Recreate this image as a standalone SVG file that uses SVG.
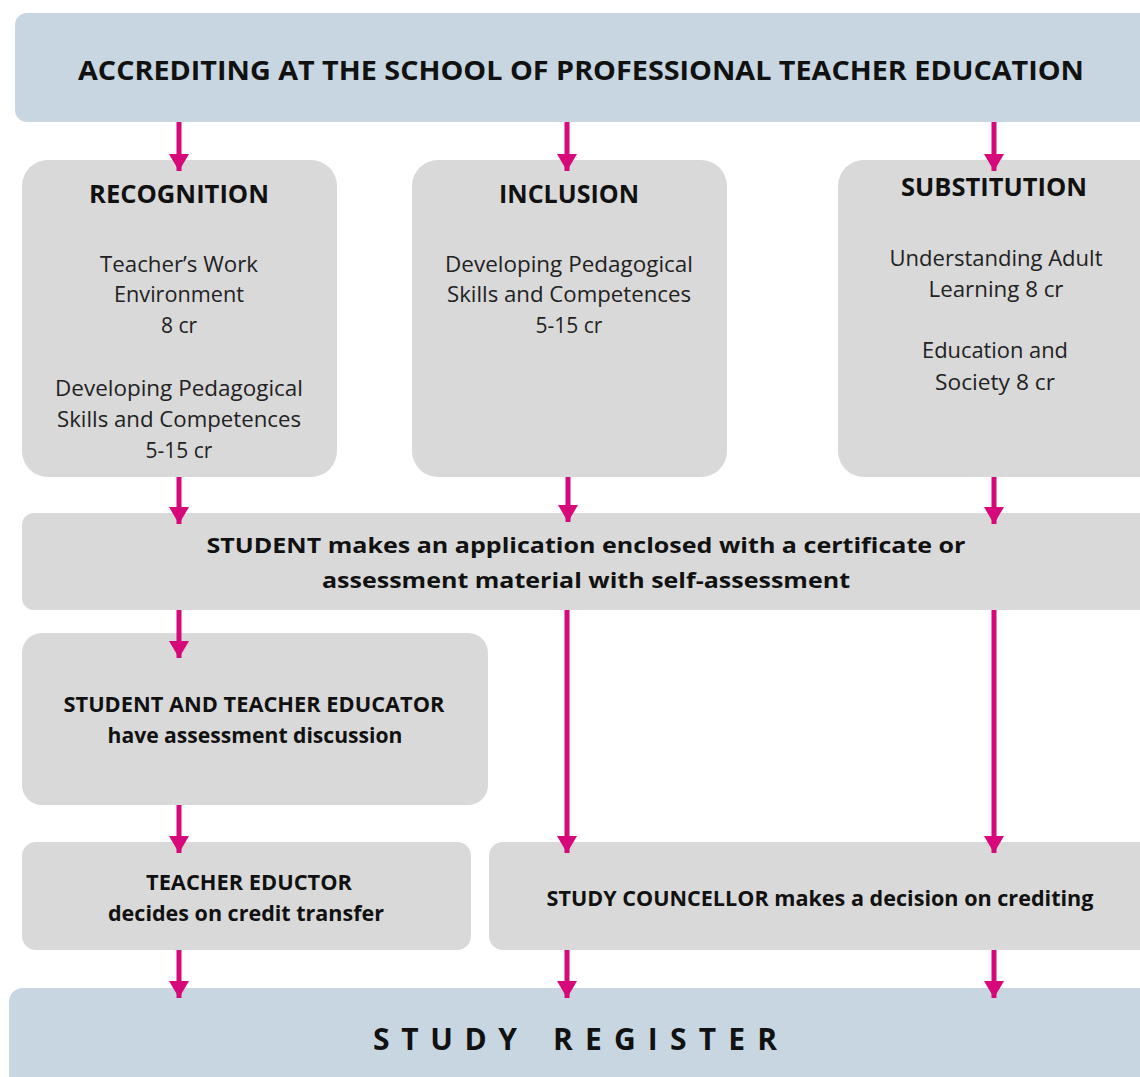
<svg xmlns="http://www.w3.org/2000/svg" width="1140" height="1077" viewBox="0 0 1140 1077">
<defs>
<style>
.blue{fill:#c7d6e0}
.grey{fill:#d9d9d9}
text{font-family:"Open Sans","Liberation Sans",sans-serif;fill:#111;text-anchor:middle}
.h{font-weight:bold;font-size:25px}
.b{font-weight:bold;font-size:22px}
.n{font-size:21px;fill:#222}
.reg{font-weight:bold;font-size:30px;text-anchor:start}
.conn line{stroke:#d6087a;stroke-width:5}
</style>
<marker id="ah" markerWidth="17" markerHeight="20" refX="17" refY="10" orient="auto" markerUnits="userSpaceOnUse" viewBox="0 0 17 20">
<path d="M0,0 L17,10 L0,20 Z" fill="#d6087a"/>
</marker>
</defs>
<rect width="1140" height="1077" fill="#fff"/>
<g id="top">
<rect class="blue" x="15" y="13" width="1145" height="109" rx="12"/>
<text class="h" x="581" y="80" style="font-size:27px" textLength="1006" lengthAdjust="spacingAndGlyphs">ACCREDITING AT THE SCHOOL OF PROFESSIONAL TEACHER EDUCATION</text>
</g>
<g id="recognition">
<rect class="grey" x="22" y="160" width="315" height="317" rx="26"/>
<text class="h" x="179" y="203" textLength="180" lengthAdjust="spacingAndGlyphs">RECOGNITION</text>
<text class="n" x="179" y="272" textLength="158" lengthAdjust="spacingAndGlyphs">Teacher’s Work</text>
<text class="n" x="179" y="302" textLength="130" lengthAdjust="spacingAndGlyphs">Environment</text>
<text class="n" x="179" y="333">8 cr</text>
<text class="n" x="179" y="396" textLength="248" lengthAdjust="spacingAndGlyphs">Developing Pedagogical</text>
<text class="n" x="179" y="427" textLength="244" lengthAdjust="spacingAndGlyphs">Skills and Competences</text>
<text class="n" x="179" y="458">5-15 cr</text>
</g>
<g id="inclusion">
<rect class="grey" x="412" y="160" width="315" height="317" rx="26"/>
<text class="h" x="569" y="203" textLength="140" lengthAdjust="spacingAndGlyphs">INCLUSION</text>
<text class="n" x="569" y="272" textLength="248" lengthAdjust="spacingAndGlyphs">Developing Pedagogical</text>
<text class="n" x="569" y="302" textLength="244" lengthAdjust="spacingAndGlyphs">Skills and Competences</text>
<text class="n" x="569" y="333">5-15 cr</text>
</g>
<g id="substitution">
<rect class="grey" x="838" y="160" width="330" height="317" rx="26"/>
<text class="h" x="994" y="196" textLength="186" lengthAdjust="spacingAndGlyphs">SUBSTITUTION</text>
<text class="n" x="996" y="266" textLength="213" lengthAdjust="spacingAndGlyphs">Understanding Adult</text>
<text class="n" x="996" y="297" textLength="135" lengthAdjust="spacingAndGlyphs">Learning 8 cr</text>
<text class="n" x="995" y="358" textLength="146" lengthAdjust="spacingAndGlyphs">Education and</text>
<text class="n" x="995" y="390" textLength="120" lengthAdjust="spacingAndGlyphs">Society 8 cr</text>
</g>
<g id="student">
<rect class="grey" x="22" y="513" width="1140" height="97" rx="12"/>
<text class="b" x="586" y="553" textLength="759" lengthAdjust="spacingAndGlyphs">STUDENT makes an application enclosed with a certificate or</text>
<text class="b" x="586" y="588" textLength="528" lengthAdjust="spacingAndGlyphs">assessment material with self-assessment</text>
</g>
<g id="discussion">
<rect class="grey" x="22" y="633" width="466" height="172" rx="20"/>
<text class="b" x="254" y="712" textLength="381" lengthAdjust="spacingAndGlyphs">STUDENT AND TEACHER EDUCATOR</text>
<text class="b" x="255" y="743" textLength="295" lengthAdjust="spacingAndGlyphs">have assessment discussion</text>
</g>
<g id="eductor">
<rect class="grey" x="22" y="842" width="449" height="108" rx="14"/>
<text class="b" x="249" y="890" textLength="206" lengthAdjust="spacingAndGlyphs">TEACHER EDUCTOR</text>
<text class="b" x="246" y="921" textLength="276" lengthAdjust="spacingAndGlyphs">decides on credit transfer</text>
</g>
<g id="councellor">
<rect class="grey" x="489" y="842" width="680" height="108" rx="14"/>
<text class="b" x="820" y="906" textLength="547" lengthAdjust="spacingAndGlyphs">STUDY COUNCELLOR makes a decision on crediting</text>
</g>
<g id="register">
<rect class="blue" x="9" y="988" width="1160" height="110" rx="14"/>
<text class="reg" x="373" y="1050" textLength="144" lengthAdjust="spacing">STUDY</text>
<text class="reg" x="553" y="1050" textLength="224" lengthAdjust="spacing">REGISTER</text>
</g>
<g id="connectors" class="conn">
<line x1="179" y1="122" x2="179" y2="171" marker-end="url(#ah)"/>
<line x1="567" y1="122" x2="567" y2="171" marker-end="url(#ah)"/>
<line x1="994" y1="122" x2="994" y2="171" marker-end="url(#ah)"/>
<line x1="179" y1="477" x2="179" y2="524" marker-end="url(#ah)"/>
<line x1="568" y1="477" x2="568" y2="522" marker-end="url(#ah)"/>
<line x1="994" y1="477" x2="994" y2="524" marker-end="url(#ah)"/>
<line x1="179" y1="610" x2="179" y2="658" marker-end="url(#ah)"/>
<line x1="567" y1="610" x2="567" y2="853" marker-end="url(#ah)"/>
<line x1="994" y1="610" x2="994" y2="853" marker-end="url(#ah)"/>
<line x1="179" y1="805" x2="179" y2="853" marker-end="url(#ah)"/>
<line x1="179" y1="950" x2="179" y2="998" marker-end="url(#ah)"/>
<line x1="567" y1="950" x2="567" y2="998" marker-end="url(#ah)"/>
<line x1="994" y1="950" x2="994" y2="998" marker-end="url(#ah)"/>
</g>
</svg>
